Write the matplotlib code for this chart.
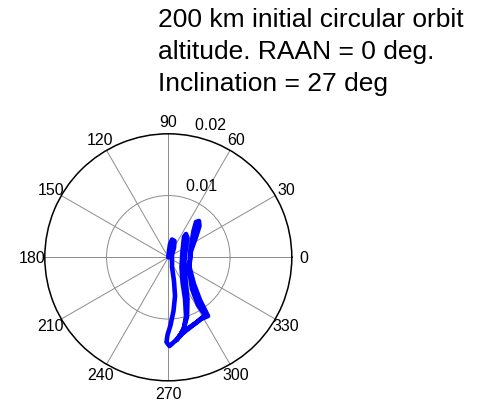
import numpy as np
import matplotlib
matplotlib.use("Agg")
import matplotlib.pyplot as plt

plt.rcParams['font.family'] = ['Liberation Sans', 'DejaVu Sans']

# Eccentricity vector history (components, units of 1e-3)
ex = np.array([0.00, 0.11, 0.28, 0.60, 1.00, 0.92, 0.60, 0.60, 0.92, 1.09,
               0.84, 0.36, -0.13, -0.29, 0.19, 1.09, 1.98, 2.54, 2.87, 2.71,
               2.30, 2.14, 2.30, 2.54, 2.87, 3.11, 2.87, 2.62, 2.79, 3.11,
               3.03, 2.46, 1.73, 2.38, 3.84, 5.30, 6.43, 6.11, 5.14, 4.16,
               3.43, 3.60, 4.08, 4.49, 4.97, 5.05, 4.49, 3.68, 3.35, 3.84,
               4.81, 5.95, 4.65, 3.03, 1.90, 1.41]) * 1e-3
ey = np.array([0.00, 1.02, 2.15, 2.88, 2.64, 1.51, 0.37, -1.57, -3.84, -6.27,
               -8.70, -10.97, -12.59, -13.72, -14.37, -13.56, -12.59, -11.45, -9.51, -6.76,
               -4.00, -1.57, 1.02, 3.29, 3.77, 3.13, 1.67, -0.60, -3.52, -6.76,
               -9.67, -11.62, -12.91, -12.26, -11.13, -10.00, -9.51, -8.86, -6.92, -4.33,
               -1.57, 1.34, 4.26, 5.72, 5.88, 5.07, 3.29, 1.02, -1.90, -5.14,
               -7.73, -9.35, -10.48, -11.62, -12.59, -13.40]) * 1e-3

theta = np.arctan2(ey, ex)
r = np.hypot(ex, ey)

rmax = 0.02
rings = [0.01, 0.02]
ring_labels = ['0.01', '0.02']
angle_ticks = np.arange(0, 360, 30)
angle_labels = [str(a) for a in angle_ticks]

title_lines = ["200 km initial circular orbit",
               "altitude. RAAN = 0 deg.",
               "Inclination = 27 deg"]

W, H = 486, 402
fig = plt.figure(figsize=(W / 100, H / 100), dpi=100)
fig.patch.set_facecolor('white')

cx, cy, rad = 168.3, 402 - 258.3, 123.5
ax = fig.add_axes([(cx - rad) / W, (cy - rad) / H, 2 * rad / W, 2 * rad / H],
                  projection='polar')
ax.set_ylim(0, rmax)
ax.set_xticks(np.deg2rad(angle_ticks))
ax.set_xticklabels([''] * len(angle_ticks))
ax.set_yticks([0.01])
ax.set_yticklabels([''])
ax.grid(True, color='0.55', linewidth=0.7, linestyle='-')
ax.spines['polar'].set_color('black')
ax.spines['polar'].set_linewidth(1.1)
ax.tick_params(length=0)

ax.plot(theta, r, color='#0000ff', linewidth=3.3, solid_joinstyle='round',
        solid_capstyle='round', zorder=5)

for a, lab in zip(angle_ticks, angle_labels):
    ax.text(np.deg2rad(a), 1.1 * rmax, lab, ha='center', va='center',
            fontsize=11.5, color='black', clip_on=False)

for rv, lab in zip(rings, ring_labels):
    ax.text(np.deg2rad(82), rv + 0.01 / 20, '  ' + lab, ha='left', va='bottom',
            fontsize=11.5, color='black', clip_on=False)

baselines = [27, 59, 91]
for line, yb in zip(title_lines, baselines):
    fig.text(158 / W, 1 - yb / H, line, ha='left', va='baseline',
             fontsize=19, color='black')

fig.savefig('out.png', dpi=100)
